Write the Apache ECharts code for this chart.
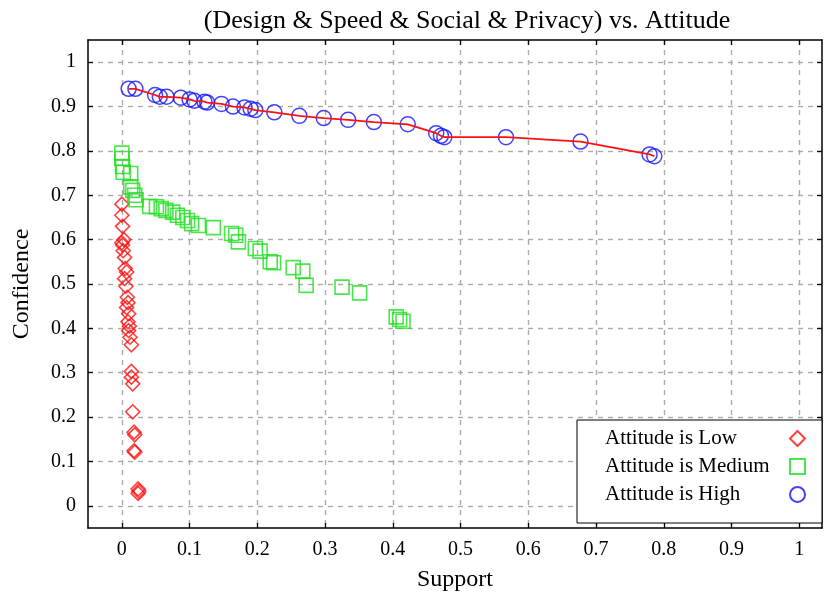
<!DOCTYPE html>
<html>
<head>
<meta charset="utf-8">
<script src="https://cdn.jsdelivr.net/npm/echarts@6/dist/echarts.min.js"></script>
<style>html,body{margin:0;padding:0;background:#fff}#c{width:824px;height:592px}</style>
</head>
<body>
<div id="c"></div>
<script>
// ---- data ----
const seriesNames = ['Attitude is Low', 'Attitude is Medium', 'Attitude is High'];
const xTicks = [0, 0.1, 0.2, 0.3, 0.4, 0.5, 0.6, 0.7, 0.8, 0.9, 1];
const yTicks = [0, 0.1, 0.2, 0.3, 0.4, 0.5, 0.6, 0.7, 0.8, 0.9, 1];

const lowX = [0.000,0.000,0.001,0.003,0.000,0.001,0.002,0.004,0.005,0.007,0.004,0.006,0.008,0.009,0.007,0.010,0.009,0.011,0.010,0.012,0.014,0.014,0.014,0.016,0.016,0.018,0.019,0.018,0.019,0.024,0.025,0.024];
const lowY = [0.680,0.655,0.630,0.600,0.593,0.588,0.575,0.560,0.535,0.527,0.512,0.495,0.470,0.458,0.447,0.433,0.415,0.405,0.395,0.380,0.363,0.303,0.290,0.275,0.212,0.166,0.160,0.124,0.121,0.038,0.033,0.028];

const medX = [0.000,0.000,0.001,0.002,0.013,0.013,0.016,0.019,0.021,0.041,0.051,0.058,0.065,0.075,0.082,0.090,0.097,0.103,0.113,0.135,0.162,0.168,0.172,0.197,0.204,0.219,0.224,0.253,0.267,0.272,0.325,0.351,0.405,0.410,0.415];
const medY = [0.795,0.783,0.765,0.752,0.749,0.719,0.711,0.700,0.690,0.675,0.674,0.670,0.666,0.662,0.655,0.650,0.643,0.636,0.632,0.627,0.614,0.610,0.595,0.580,0.574,0.550,0.548,0.537,0.529,0.497,0.493,0.480,0.426,0.420,0.416];

const highX = [0.010,0.020,0.049,0.056,0.066,0.087,0.100,0.107,0.122,0.126,0.147,0.164,0.181,0.190,0.197,0.225,0.262,0.298,0.334,0.372,0.422,0.464,0.471,0.476,0.567,0.677,0.779,0.786];
const highY = [0.940,0.940,0.926,0.922,0.922,0.920,0.916,0.913,0.911,0.909,0.906,0.900,0.898,0.895,0.892,0.887,0.879,0.874,0.870,0.865,0.860,0.840,0.834,0.831,0.831,0.821,0.792,0.788];

// ---- build ----
const pairs = (xs, ys) => xs.map((x, i) => [x, ys[i]]);
const FONT = '"Liberation Serif", "DejaVu Serif", serif';
const fmt = v => String(Math.round(v * 10) / 10);
const RED = '#ff1010', GREEN = '#1ee01e', BLUE = '#1414ff';

const gridLine = { show: true, lineStyle: { color: '#ababab', type: [5, 5], width: 1.4 } };
const axisLine = { show: true, onZero: false, lineStyle: { color: '#000', width: 1.5 } };
const tick = { show: true, inside: true, length: 5, lineStyle: { color: '#000', width: 1.3 } };

const chart = echarts.init(document.getElementById('c'), null, { renderer: 'canvas' });
chart.setOption({
  animation: false,
  backgroundColor: '#fff',
  title: {
    text: '(Design & Speed & Social & Privacy) vs. Attitude',
    left: 462, top: 3, textAlign: 'center',
    textStyle: { fontFamily: FONT, fontSize: 26, fontWeight: 'normal', color: '#000' }
  },
  grid: { left: 88, right: 2, top: 40, bottom: 64, containLabel: false, outerBoundsMode: 'none' },
  legend: {
    data: seriesNames,
    orient: 'vertical', left: 577, top: 420, align: 'right',
    padding: [8, 16, 18, 28], itemGap: 7, itemWidth: 15, itemHeight: 15,
    borderColor: '#000', borderWidth: 1, backgroundColor: '#fff',
    formatter: '{a|{name}}',
    textStyle: {
      fontFamily: FONT, fontSize: 21, color: '#000',
      rich: { a: { width: 180, align: 'left', fontFamily: FONT, fontSize: 21, color: '#000' } }
    }
  },
  xAxis: [{
    type: 'value', position: 'bottom', min: -0.05, max: 1.0335,
    name: 'Support', nameLocation: 'middle', nameGap: 40,
    nameTextStyle: { fontFamily: FONT, fontSize: 24, color: '#000' },
    axisLine: axisLine,
    axisTick: Object.assign({ customValues: xTicks }, tick),
    axisLabel: { customValues: xTicks, formatter: fmt, margin: 12, fontFamily: FONT, fontSize: 20, color: '#000' },
    splitLine: gridLine
  }, {
    type: 'value', position: 'top', min: -0.05, max: 1.0335,
    axisLine: axisLine,
    axisTick: Object.assign({ customValues: xTicks }, tick),
    axisLabel: { show: false }, splitLine: { show: false }
  }],
  yAxis: [{
    type: 'value', position: 'left', min: -0.05, max: 1.05,
    name: 'Confidence', nameLocation: 'middle', nameGap: 54, nameRotate: 90,
    nameTextStyle: { fontFamily: FONT, fontSize: 24, color: '#000' },
    axisLine: axisLine,
    axisTick: Object.assign({ customValues: yTicks }, tick),
    axisLabel: { customValues: yTicks, formatter: fmt, margin: 12, fontFamily: FONT, fontSize: 20, color: '#000' },
    splitLine: gridLine
  }, {
    type: 'value', position: 'right', min: -0.05, max: 1.05,
    axisLine: axisLine,
    axisTick: Object.assign({ customValues: yTicks }, tick),
    axisLabel: { show: false }, splitLine: { show: false }
  }],
  series: [{
    name: seriesNames[0], type: 'scatter', symbol: 'diamond', symbolSize: 14,
    itemStyle: { color: 'rgba(255,255,255,0)', borderColor: RED, borderWidth: 1.6 },
    data: pairs(lowX, lowY)
  }, {
    name: seriesNames[1], type: 'scatter', symbol: 'rect', symbolSize: 14,
    itemStyle: { color: 'rgba(255,255,255,0)', borderColor: GREEN, borderWidth: 1.6 },
    data: pairs(medX, medY)
  }, {
    name: seriesNames[2], type: 'scatter', symbol: 'circle', symbolSize: 15,
    itemStyle: { color: 'rgba(255,255,255,0)', borderColor: BLUE, borderWidth: 1.5 },
    data: pairs(highX, highY)
  }, {
    name: 'High trend', type: 'line', showSymbol: false, symbol: 'none', z: 3,
    lineStyle: { color: RED, width: 1.8 },
    data: pairs(highX, highY)
  }]
});
</script>
</body>
</html>
